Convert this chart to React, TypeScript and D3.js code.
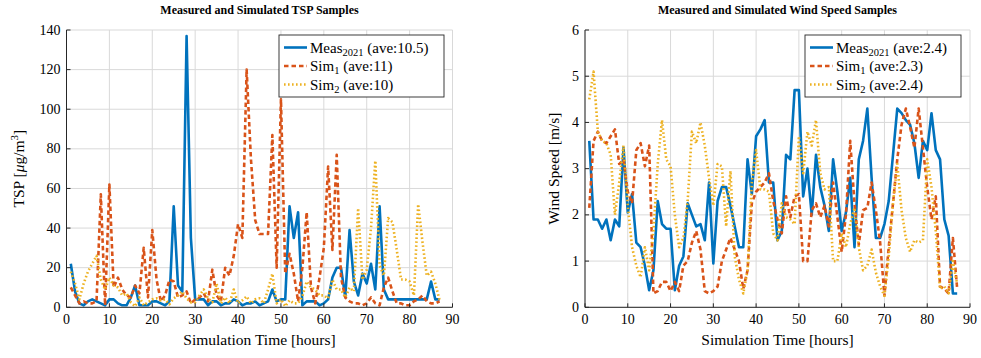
import React from 'react';
import * as d3 from 'd3';

// hours 1..87 on the x axis
const hours = d3.range(1, 88);

const xTicks = [0, 10, 20, 30, 40, 50, 60, 70, 80, 90];
const tspTicks = [0, 20, 40, 60, 80, 100, 120, 140];
const windTicks = [0, 1, 2, 3, 4, 5, 6];

// TSP [ug/m3]
const tspMeas = [
  22, 8, 2, 1, 3, 4, 3, 2, 1, 4, 4, 2, 1, 1, 5, 11, 1, 1, 1, 3,
  3, 2, 1, 3, 51, 11, 8, 137, 35, 4, 4, 4, 1, 3, 3, 1, 2, 2, 4, 3,
  1, 2, 2, 3, 1, 2, 3, 9, 3, 4, 4, 51, 35, 48, 1, 3, 3, 3, 1, 2,
  4, 15, 20, 20, 5, 39, 13, 6, 17, 12, 22, 9, 51, 9, 4, 4, 4, 4, 4, 4,
  4, 4, 4, 4, 13, 4, 4,
];
const tspSim1 = [
  10, 6, 2, 3, 2, 2, 3, 57, 1, 62, 10, 15, 9, 6, 5, 11, 7, 30, 5, 39,
  14, 3, 6, 14, 13, 5, 6, 8, 2, 4, 5, 7, 3, 19, 6, 3, 20, 16, 26, 42,
  35, 120, 75, 44, 37, 37, 37, 87, 20, 105, 17, 27, 17, 3, 20, 48, 10, 2, 15, 30,
  71, 29, 77, 15, 5, 3, 2, 2, 1, 2, 5, 2, 1, 10, 15, 8, 2, 2, 1, 1,
  3, 4, 6, 3, 2, 2, 3,
];
const tspSim2 = [
  18, 12, 4, 12, 18, 22, 26, 14, 9, 15, 11, 10, 6, 7, 2.5, 0.5, 5, 1, 2.5, 4,
  4.5, 3.5, 4, 1.5, 4.5, 6, 8, 4.5, 2.5, 2.5, 6, 9, 4.5, 2.5, 12, 2, 5, 2, 9, 2,
  3.5, 5.5, 2, 4, 4.5, 2, 9, 17, 2, 4, 0.5, 3.5, 2, 2, 5.5, 13, 10, 9, 6, 6,
  4.5, 14, 9, 9, 5, 10, 8, 50, 14, 19, 40, 74, 21, 16, 45, 43, 29, 14, 14, 13,
  6, 52, 33, 16, 18, 12, 3.5,
];

// wind speed [m/s]
const windMeas = [
  3.6, 1.9, 1.9, 1.7, 1.9, 1.45, 1.9, 1.75, 3.45, 2.05, 2.45, 1.4, 1.3, 0.9, 0.37, 0.8, 2.3, 1.8, 1.7, 1.7,
  0.37, 0.9, 1.1, 2.25, 2.0, 1.75, 1.8, 1.45, 2.7, 0.95, 2.3, 2.6, 2.6, 2.2, 1.75, 1.3, 1.3, 3.2, 2.45, 3.7,
  3.85, 4.05, 2.7, 2.7, 1.45, 1.65, 3.3, 3.2, 4.7, 4.7, 2.4, 3.0, 2.0, 3.3, 2.6, 2.2, 1.65, 3.2, 2.5, 1.65,
  2.05, 2.8, 1.3, 3.2, 3.6, 4.3, 2.8, 1.5, 1.5, 1.8, 2.3, 3.3, 4.3, 4.2, 4.05, 3.95, 3.55, 2.8, 3.6, 3.4,
  4.2, 3.4, 3.2, 1.9, 1.55, 0.3, 0.3,
];
const windSim1 = [
  2.15, 3.6, 3.8, 3.6, 3.55, 3.7, 3.85, 3.1, 3.2, 2.5, 2.25, 3.4, 3.55, 3.05, 3.5, 0.3, 0.35, 0.55, 0.55, 0.35,
  0.55, 0.35, 0.9, 1.0, 1.4, 1.65, 1.25, 0.35, 0.3, 0.35, 0.45, 1.0, 1.25, 1.5, 1.25, 1.0, 0.4, 0.8, 2.25, 2.5,
  2.6, 2.7, 2.9, 2.3, 1.9, 1.6, 2.4, 1.95, 2.4, 2.45, 1.0, 1.0, 2.1, 2.25, 1.95, 2.2, 1.75, 2.7, 1.95, 1.2,
  2.0, 3.6, 2.25, 1.35, 2.1, 2.15, 2.7, 2.1, 1.4, 0.25, 1.3, 2.25, 3.2, 3.95, 4.3, 3.9, 3.45, 4.3, 3.45, 2.6,
  1.9, 2.4, 0.45, 0.4, 0.3, 1.5, 0.4,
];
const windSim2 = [
  4.5, 5.1, 3.8, 3.6, 3.55, 3.3, 2.0, 2.7, 3.5, 2.2, 1.3, 0.9, 0.65, 1.3, 0.8, 1.65, 3.1, 4.05, 3.2, 3.05,
  2.0, 1.3, 1.5, 2.3, 3.8, 3.55, 4.0, 3.5, 2.8, 2.2, 3.1, 3.05, 1.75, 2.95, 1.1, 0.6, 0.3, 0.8, 2.7, 3.4,
  2.55, 2.55, 2.5, 1.6, 1.45, 2.25, 1.95, 1.9, 1.8, 3.7, 2.9, 3.8, 3.5, 4.05, 2.9, 2.55, 2.6, 1.0, 1.0, 1.6,
  1.3, 1.8, 2.15, 1.3, 0.8, 0.9, 1.25, 0.75, 0.45, 0.25, 1.1, 2.25, 3.1, 2.1, 1.5, 1.2, 1.45, 1.4, 1.45, 3.2,
  2.6, 1.65, 0.4, 0.45, 0.3, 1.0, 0.5,
];

const tspAve = ['10.5', '11', '10'];
const windAve = ['2.4', '2.3', '2.4'];

const FONT = '"Liberation Serif", "Times New Roman", serif';
const AXIS = '#262626';
const GRID = '#d9d9d9';

const styles = [
  { color: '#0072BD', dash: null },
  { color: '#D95319', dash: '4.5,3' },
  { color: '#EDB120', dash: '1.6,2.4' },
];

const top = 30;
const bottom = 307.3;

const Legend = ({ x0, width, aves }) => {
  const rows = [
    { name: 'Meas', sub: '2021' },
    { name: 'Sim', sub: '1' },
    { name: 'Sim', sub: '2' },
  ];
  return (
    <g>
      <rect x={x0} y={35} width={width} height={62} fill="#fff" stroke={AXIS} strokeWidth={0.9} />
      {rows.map((r, i) => {
        const ry = 47.5 + i * 18.5;
        return (
          <g key={i}>
            <line x1={x0 + 5} x2={x0 + 28} y1={ry} y2={ry} stroke={styles[i].color}
              strokeWidth={2.6} strokeDasharray={styles[i].dash || undefined} />
            <text x={x0 + 31} y={ry + 5} fontFamily={FONT} fontSize={15} fill="#000">
              {r.name}
              <tspan fontSize={10.5} dy={3}>{r.sub}</tspan>
              <tspan dy={-3}>{` (ave:${aves[i]})`}</tspan>
            </text>
          </g>
        );
      })}
    </g>
  );
};

const Panel = ({ left, right, yMax, yTicks, title, yLabel, yLabelX, series, aves, legendX, legendW }) => {
  const x = d3.scaleLinear().domain([0, 90]).range([left, right]);
  const y = d3.scaleLinear().domain([0, yMax]).range([bottom, top]);
  const line = d3.line<number>().x((_, i) => x(hours[i])).y((v) => y(v));
  const cx = (left + right) / 2;
  return (
    <g>
      {xTicks.map((t) => (
        <line key={'gx' + t} x1={x(t)} x2={x(t)} y1={top} y2={bottom} stroke={GRID} strokeWidth={1} />
      ))}
      {yTicks.map((t) => (
        <line key={'gy' + t} x1={left} x2={right} y1={y(t)} y2={y(t)} stroke={GRID} strokeWidth={1} />
      ))}
      {series.map((s, i) => (
        <path key={i} d={line(s) || ''} fill="none" stroke={styles[i].color} strokeWidth={2.6}
          strokeLinejoin="round" strokeDasharray={styles[i].dash || undefined} />
      ))}
      <line x1={left} x2={left} y1={top} y2={bottom} stroke={AXIS} strokeWidth={1} />
      <line x1={left} x2={right} y1={bottom} y2={bottom} stroke={AXIS} strokeWidth={1} />
      {xTicks.map((t) => (
        <g key={'tx' + t}>
          <line x1={x(t)} x2={x(t)} y1={bottom} y2={bottom - 4} stroke={AXIS} />
          <text x={x(t)} y={bottom + 17} textAnchor="middle" fontFamily={FONT} fontSize={14}>{t}</text>
        </g>
      ))}
      {yTicks.map((t) => (
        <g key={'ty' + t}>
          <line x1={left} x2={left + 4} y1={y(t)} y2={y(t)} stroke={AXIS} />
          <text x={left - 6} y={y(t) + 4.5} textAnchor="end" fontFamily={FONT} fontSize={14}>{t}</text>
        </g>
      ))}
      <text x={cx} y={14} textAnchor="middle" fontFamily={FONT} fontSize={12} fontWeight="bold">{title}</text>
      <text x={cx} y={345} textAnchor="middle" fontFamily={FONT} fontSize={15.5}>Simulation Time [hours]</text>
      <text transform={`translate(${yLabelX},${(top + bottom) / 2}) rotate(-90)`} textAnchor="middle"
        fontFamily={FONT} fontSize={15.5}>{yLabel}</text>
      <Legend x0={legendX} width={legendW} aves={aves} />
    </g>
  );
};

const App = () => {
  return (
    <svg width={981} height={358} style={{ position: 'absolute', left: 0, top: 0, background: '#fff' }}>
      <Panel left={66.5} right={452.5} yMax={140} yTicks={tspTicks}
        title="Measured and Simulated TSP Samples"
        yLabel={<>TSP [<tspan fontStyle="italic">μ</tspan>g/m<tspan fontSize={11} dy={-6}>3</tspan><tspan dy={6}>]</tspan></>}
        yLabelX={24} series={[tspMeas, tspSim1, tspSim2]} aves={tspAve} legendX={279} legendW={165} />
      <Panel left={585} right={970} yMax={6} yTicks={windTicks}
        title="Measured and Simulated Wind Speed Samples"
        yLabel="Wind Speed [m/s]" yLabelX={559}
        series={[windMeas, windSim1, windSim2]} aves={windAve} legendX={805} legendW={156} />
    </svg>
  );
};

export default App;
